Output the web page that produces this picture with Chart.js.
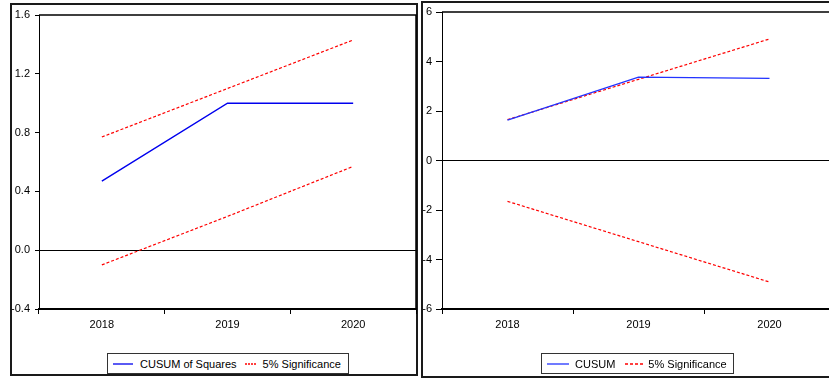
<!DOCTYPE html>
<html>
<head>
<meta charset="utf-8">
<script src="https://cdn.jsdelivr.net/npm/chart.js@4.4.1/dist/chart.umd.min.js"></script>
<style>
  html, body { margin: 0; padding: 0; background: #fff; }
  body { width: 829px; height: 379px; overflow: hidden; position: relative;
         font-family: "Liberation Sans", Arial, sans-serif; }
  .panel { position: absolute; box-sizing: border-box; border: 2px solid #1a1a1a; }
  #boxSq { left: 10px; top: 3px; width: 408px; height: 373px; }
  #boxCu { left: 421px; top: 1px; width: 430px; height: 377px; }
  canvas { position: absolute; top: 0; }
  #cSq { left: 0; }
  #cCu { left: 421px; }
  .legend { position: absolute; top: 353px; height: 21px; box-sizing: border-box;
            border: 1px solid #333; background: #fff; display: flex; align-items: center;
            font-size: 11px; color: #000; white-space: nowrap; }
  .legend svg { display: block; flex: none; }
  #legSq { left: 107px; width: 242px; }
  #legCu { left: 541px; width: 193px; }
</style>
</head>
<body>
<div class="panel" id="boxSq"></div>
<div class="panel" id="boxCu"></div>
<canvas id="cSq" width="418" height="379"></canvas>
<canvas id="cCu" width="420" height="379"></canvas>
<div class="legend" id="legSq"></div>
<div class="legend" id="legCu"></div>
<script>
// Observation years on the horizontal axis
const years = ['2018', '2019', '2020'];

// CUSUM of Squares test with its 5% bounds
const sqValues = [0.47, 1.00, 1.00];
const sqUpper  = [0.77, 1.10, 1.43];
const sqLower  = [-0.10, 0.23, 0.57];
const sqTicks  = [-0.4, 0.0, 0.4, 0.8, 1.2, 1.6];

// CUSUM test with its 5% bounds
const cusumValues = [1.63, 3.37, 3.32];
const cusumUpper  = [1.65, 3.28, 4.91];
const cusumLower  = [-1.65, -3.28, -4.91];
const cusumTicks  = [-6, -4, -2, 0, 2, 4, 6];

Chart.defaults.font.family = '"Liberation Sans", Arial, sans-serif';
Chart.defaults.font.size = 11;
Chart.defaults.color = '#000';

// Top and right edges of the plotting frame
const plotFrame = {
  id: 'plotFrame',
  afterDatasetsDraw(chart) {
    const a = chart.chartArea, ctx = chart.ctx;
    ctx.save();
    ctx.strokeStyle = '#000';
    ctx.lineWidth = 1.5;
    ctx.beginPath();
    ctx.moveTo(a.left, a.top);
    ctx.lineTo(a.right, a.top);
    ctx.lineTo(a.right, a.bottom);
    ctx.stroke();
    ctx.restore();
  }
};

function makeDatasets(label, values, upper, lower, blue) {
  const red = 'rgb(255,0,0)';
  return [
    { label: label, data: values, borderColor: blue, borderWidth: 1.4, fill: false },
    { label: '5% Significance', data: upper, borderColor: red, borderWidth: 1.2, borderDash: [3, 2], fill: false },
    { label: '5% Significance', data: lower, borderColor: red, borderWidth: 1.2, borderDash: [3, 2], fill: false, legendHidden: true }
  ];
}

function makeOptions(cfg) {
  return {
    responsive: false,
    animation: false,
    devicePixelRatio: 1,
    layout: { padding: cfg.padding },
    plugins: { legend: { display: false }, tooltip: { enabled: false } },
    elements: { point: { radius: 0 }, line: { tension: 0 } },
    scales: {
      x: {
        type: 'category',
        offset: true,
        grid: { offset: true, drawOnChartArea: false, drawTicks: true, tickLength: 5,
                color: '#000', tickColor: '#000' },
        border: { display: true, color: '#000', width: 2 },
        ticks: { color: '#000', padding: 4, maxRotation: 0, font: { size: 11 } },
        afterFit: s => { s.height = 40; }
      },
      y: {
        min: cfg.ticks[0],
        max: cfg.ticks[cfg.ticks.length - 1],
        afterBuildTicks: s => { s.ticks = cfg.ticks.map(v => ({ value: v })); },
        grid: {
          color: c => (c.tick && Math.abs(c.tick.value) < 1e-9) ? '#000' : 'rgba(0,0,0,0)',
          tickColor: '#000', tickLength: cfg.tickLen, drawTicks: true, lineWidth: 1
        },
        border: { display: true, color: '#000', width: 1 },
        ticks: { color: '#000', padding: cfg.tickPad, callback: cfg.format, font: { size: 11 } },
        afterFit: s => { s.width = cfg.axisWidth; }
      }
    }
  };
}

function buildLegend(el, chart, samples) {
  let k = 0;
  chart.data.datasets.forEach(ds => {
    if (ds.legendHidden) return;
    const s = samples[k++];
    const ns = 'http://www.w3.org/2000/svg';
    const svg = document.createElementNS(ns, 'svg');
    svg.setAttribute('width', s.w);
    svg.setAttribute('height', 4);
    svg.style.marginLeft = s.before + 'px';
    svg.style.marginRight = s.after + 'px';
    const ln = document.createElementNS(ns, 'line');
    ln.setAttribute('x1', 0); ln.setAttribute('x2', s.w);
    ln.setAttribute('y1', 2); ln.setAttribute('y2', 2);
    ln.setAttribute('stroke', ds.borderColor);
    ln.setAttribute('stroke-width', 1.3);
    if (ds.borderDash) ln.setAttribute('stroke-dasharray', s.dash);
    svg.appendChild(ln);
    const t = document.createElement('span');
    t.textContent = ds.label;
    el.appendChild(svg);
    el.appendChild(t);
  });
}

const sqChart = new Chart(document.getElementById('cSq'), {
  type: 'line',
  data: { labels: years, datasets: makeDatasets('CUSUM of Squares', sqValues, sqUpper, sqLower, '#0000ee') },
  options: makeOptions({
    ticks: sqTicks, padding: { left: 12, top: 15, right: 2, bottom: 30 },
    axisWidth: 27, tickLen: 4, tickPad: 5, format: v => Number(v).toFixed(1)
  }),
  plugins: [plotFrame]
});

const cusumChart = new Chart(document.getElementById('cCu'), {
  type: 'line',
  data: { labels: years, datasets: makeDatasets('CUSUM', cusumValues, cusumUpper, cusumLower, '#2233ff') },
  options: makeOptions({
    ticks: cusumTicks, padding: { left: 2, top: 12, right: 6, bottom: 30 },
    axisWidth: 19, tickLen: 6, tickPad: 4, format: v => String(v)
  }),
  plugins: [plotFrame]
});

buildLegend(document.getElementById('legSq'), sqChart, [
  { w: 20, before: 5, after: 7, dash: '' },
  { w: 12, before: 8, after: 6, dash: '2,1' }
]);
buildLegend(document.getElementById('legCu'), cusumChart, [
  { w: 22, before: 5, after: 6, dash: '' },
  { w: 20, before: 10, after: 3, dash: '3,2' }
]);
</script>
</body>
</html>
